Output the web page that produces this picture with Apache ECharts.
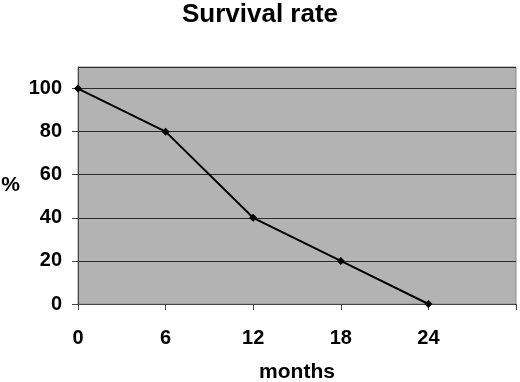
<!DOCTYPE html>
<html>
<head>
<meta charset="utf-8">
<script src="https://cdn.jsdelivr.net/npm/echarts@6/dist/echarts.min.js"></script>
<style>
  html, body { margin: 0; padding: 0; background: #fff; }
  #chart { width: 520px; height: 382px; }
</style>
</head>
<body>
<div id="chart"></div>
<script>
// months since start
const months = [0, 6, 12, 18, 24];
// survival in %
const survival = [100, 80, 40, 20, 0];

const points = months.map((m, i) => [m, survival[i]]);

const chart = echarts.init(document.getElementById('chart'), null, { renderer: 'canvas' });

const labelFont = {
  color: '#000',
  fontWeight: 'bold',
  fontSize: 20,
  fontFamily: 'Liberation Sans, Arial, sans-serif'
};

chart.setOption({
  animation: false,
  backgroundColor: '#fff',
  title: {
    text: 'Survival rate',
    left: 'center',
    top: -3,
    textStyle: {
      color: '#000',
      fontWeight: 'bold',
      fontSize: 26,
      fontFamily: 'Liberation Sans, Arial, sans-serif'
    }
  },
  grid: {
    left: 78,
    top: 67,
    right: 4,
    bottom: 78,
    outerBoundsMode: 'none',
    containLabel: false,
    show: true,
    backgroundColor: '#b3b3b3',
    borderColor: '#8a8a8a',
    borderWidth: 1
  },
  xAxis: {
    type: 'value',
    min: 0,
    max: 30,
    interval: 6,
    name: 'months',
    nameLocation: 'middle',
    nameGap: 58,
    nameTextStyle: Object.assign({}, labelFont, { fontSize: 21 }),
    axisLine: { show: true, lineStyle: { color: '#444', width: 1 } },
    axisTick: { show: true, length: 6, lineStyle: { color: '#444' } },
    axisLabel: Object.assign({}, labelFont, {
      margin: 24,
      formatter: v => (v > 24 ? '' : String(v))
    }),
    splitLine: { show: false }
  },
  yAxis: {
    type: 'value',
    min: 0,
    max: 110,
    interval: 20,
    name: '%',
    nameLocation: 'middle',
    nameRotate: 0,
    nameGap: 58,
    nameTextStyle: Object.assign({}, labelFont, { fontSize: 21 }),
    axisLine: { show: true, lineStyle: { color: '#444', width: 1 } },
    axisTick: { show: true, length: 6, lineStyle: { color: '#444' } },
    axisLabel: Object.assign({}, labelFont, {
      margin: 16,
      showMaxLabel: false,
      formatter: v => (v > 100 ? '' : String(v))
    }),
    splitLine: { show: true, lineStyle: { color: '#2a2a2a', width: 1 } }
  },
  series: [{
    type: 'line',
    data: points,
    symbol: 'diamond',
    symbolSize: 8,
    itemStyle: { color: '#000' },
    lineStyle: { color: '#000', width: 2 },
    silent: true
  }]
});
</script>
</body>
</html>
